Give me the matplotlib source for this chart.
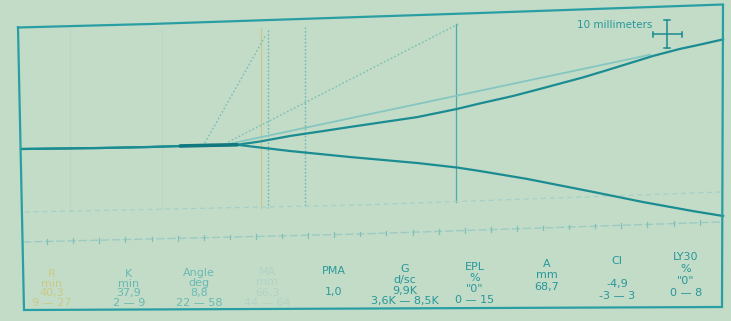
import numpy as np
import matplotlib
matplotlib.use("Agg")
import matplotlib.pyplot as plt
from matplotlib import transforms as mtransforms

W, H = 731, 321

# Thromboelastogram trace: time in minutes, amplitude in millimetres
upper_t = [0, 15.1, 24.7, 30.5, 36.2, 41.4, 45.8, 51.5, 57.3, 63.0, 75.9, 83.5,
           87.9, 94.3, 99.4, 107.7, 112.3, 121.1, 126.2, 130.1, 134.5]
upper_a = [0, 0.34, 0.69, 1.03, 1.28, 1.45, 2.59, 4.48, 6.03, 7.59, 11.0, 13.8,
           15.7, 18.3, 20.7, 24.7, 27.2, 32.1, 34.5, 36.0, 37.8]
lower_t = [0, 15.1, 24.7, 30.5, 36.2, 41.4, 45.8, 51.5, 63.0, 75.9, 83.5, 87.9,
           96.9, 109.6, 119.2, 128.7, 134.5]
lower_a = [0, 0.34, 0.69, 1.03, 1.28, 1.45, 0.52, -0.69, -2.76, -4.83, -6.38,
           -7.59, -10.3, -14.8, -18.3, -21.4, -23.1]

# construction lines (angle tangent and the two dotted rays)
angle_t = [39.7, 120.5]
angle_a = [1.7, 32.5]
ray1_t = [35.2, 46.9]
ray1_a = [2.07, 39.3]
ray2_t = [39.7, 84.1]
ray2_a = [2.41, 43.4]

# time markers (min)
marker_t = [9.4, 27.0, 46.0, 47.3, 54.4, 83.3]

# time axis ticks (min)
tick_t = list(range(5, 135, 5))

# parameter table
param_names = ["R", "K", "Angle", "MA", "PMA", "G", "EPL", "A", "CI", "LY30"]
param_units = ["min", "min", "deg", "mm", "", "d/sc", "%", "mm", "", "%"]
param_values = ["40,3", "37,9", "8,8", "66,3", "1,0", "9,9K", '"0"', "68,7", "-4,9", '"0"']
param_ranges = ["9 — 27", "2 — 9", "22 — 58", "44 — 64", "", "3,6K — 8,5K",
                "0 — 15", "", "-3 — 3", "0 — 8"]

BG = "#c3dcc8"
TEAL = "#1b8c91"
TEAL_DARK = "#127880"
FRAME = "#2a9fa3"
TEXT = "#27979a"
col_colors = ["#cbc984", "#66b9b1", "#6ab9b3", "#b2d2c4", "#2b9a98",
              TEXT, TEXT, TEXT, TEXT, TEXT]

X0, PX_MIN = 21.0, 5.22      # pixel of t=0, pixels per minute
Y0, PX_MM = 149.0, 2.9       # pixel of zero amplitude, pixels per mm

fig = plt.figure(figsize=(W / 100, H / 100), dpi=100)
fig.patch.set_facecolor(BG)
ax = fig.add_axes([0, 0, 1, 1])
ax.set_facecolor(BG)
ax.axis("off")
ax.set_xlim(-X0 / PX_MIN, (W - X0) / PX_MIN)
ax.set_ylim((Y0 - H) / PX_MM, Y0 / PX_MM)

px = mtransforms.Affine2D().scale(1 / W, -1 / H).translate(0, 1) + fig.transFigure


def amp(ypx):
    return (Y0 - ypx) / PX_MM


def tm(xpx):
    return (xpx - X0) / PX_MIN


# faint grid-like markers and marker lines
for t, col, ls, lw, y_top, y_bot in [
    (marker_t[0], "#bad6c6", "-", 0.8, 30, 212),
    (marker_t[1], "#bad6c6", "-", 0.8, 30, 210),
    (marker_t[2], "#c6c98e", "-", 0.9, 28, 208),
    (marker_t[3], "#6cb9b4", (0, (1.2, 1.4)), 1.0, 30, 208),
    (marker_t[4], "#6cb9b4", (0, (1.2, 1.4)), 1.0, 27, 206),
    (marker_t[5], "#4fa9a8", "-", 0.9, 24, 202),
]:
    ax.plot([t, t], [amp(y_top), amp(y_bot)], color=col, ls=ls, lw=lw)

# dashed reference line and time axis (slightly skewed)
ref_x = [25, 360, 722]
ref_y = [212, 205, 192]
ax.plot([tm(x) for x in ref_x], [amp(y) for y in ref_y], color="#a6d0c6",
        ls=(0, (4, 3)), lw=0.9)
axis_x = [23, 360, 720]
axis_y = [242, 234, 222]
ax.plot([tm(x) for x in axis_x], [amp(y) for y in axis_y], color="#9ccbc2",
        ls=(0, (6, 2)), lw=1.0)
axis_t = [tm(x) for x in axis_x]
axis_a = [amp(y) for y in axis_y]
for t in tick_t:
    a = np.interp(t, axis_t, axis_a)
    ax.plot([t, t], [a - 0.8, a + 0.8], color="#7fc0b8", lw=0.9)

# construction lines
ax.plot(ray1_t, ray1_a, color="#79bdb6", ls=(0, (1.2, 1.6)), lw=1.0)
ax.plot(ray2_t, ray2_a, color="#79bdb6", ls=(0, (1.2, 1.6)), lw=1.0)
ax.plot(angle_t, angle_a, color="#86c6c0", lw=1.3)

# trace
ax.plot(upper_t, upper_a, color=TEAL, lw=1.6, solid_joinstyle="round")
ax.plot(lower_t, lower_a, color=TEAL, lw=1.6, solid_joinstyle="round")
ax.plot(upper_t[3:6], upper_a[3:6], color=TEAL_DARK, lw=2.6, solid_capstyle="round")

# frame
frame_x = [18, 150, 480, 723, 722, 24, 18]
frame_y = [27.5, 24, 13, 4.5, 307, 310, 27.5]
ax.plot(frame_x, frame_y, color=FRAME, lw=1.6, transform=px, clip_on=False,
        solid_joinstyle="miter")

# 10 mm scale bar
sb_x, sb_y = 667, 34
ax.plot([sb_x, sb_x], [20, 48], color=TEAL, lw=1.1, transform=px)
ax.plot([653, 682], [sb_y, sb_y], color=TEAL, lw=1.1, transform=px)
for yy in (20, 48):
    ax.plot([sb_x - 3, sb_x + 3], [yy, yy], color=TEAL, lw=1.1, transform=px)
for xx in (653, 682):
    ax.plot([xx, xx], [sb_y - 2.5, sb_y + 2.5], color=TEAL, lw=1.1, transform=px)
ax.text(652, 25, "10 millimeters", transform=px, ha="right", va="center",
        fontsize=7.5, color=TEXT, family="DejaVu Sans")

# parameter table
col_x = [52, 129, 199, 267, 334, 405, 475, 547, 617, 686]


def row_top(x):
    return 274 - 4e-5 * (x - 42) ** 2


def row_gap(x):
    return 9.5 + 2.5 * (x - 42) / 646


for i, x in enumerate(col_x):
    rows = [param_names[i], param_units[i], param_values[i], param_ranges[i]]
    for r, s in enumerate(rows):
        if not s:
            continue
        ax.text(x, row_top(x) + r * row_gap(x), s, transform=px, ha="center",
                va="center", fontsize=8, color=col_colors[i], family="DejaVu Sans")

fig.savefig("out.png", dpi=100, facecolor=BG)
